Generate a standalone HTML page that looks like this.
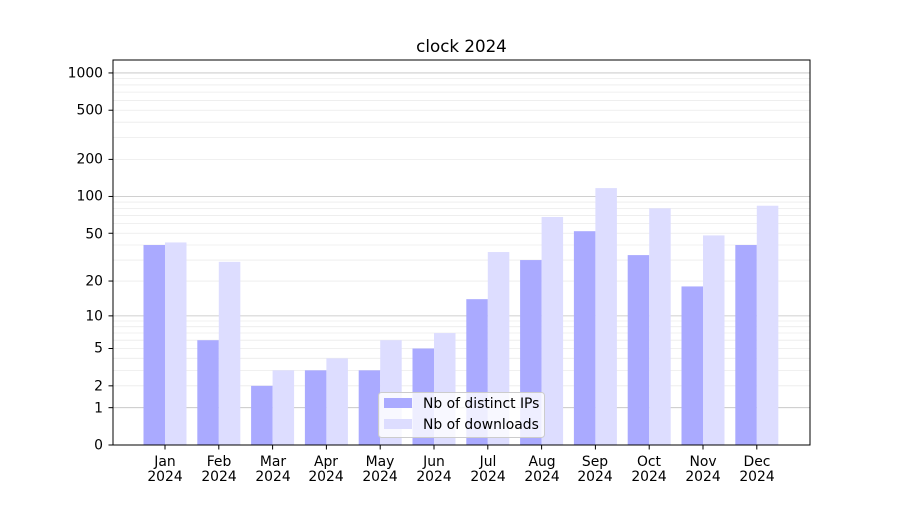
<!DOCTYPE html>
<html><head><meta charset="utf-8"><style>
body{margin:0;background:#fff}
svg text{font-family:"DejaVu Sans","Liberation Sans",sans-serif;font-size:13.9px;fill:#000}
</style></head><body>
<svg id="s" width="900" height="500" xmlns="http://www.w3.org/2000/svg">
<rect width="900" height="500" fill="#fff"/>
<g id="grid"></g>
<g id="bars"></g>
<rect x="113" y="60" width="697" height="385" fill="none" stroke="#000" stroke-width="1"/>
<g id="ticks"></g>
<text x="461.5" y="52" text-anchor="middle" style="font-size:16.7px">clock 2024</text>
<g text-anchor="end">
<text x="103" y="449.5">0</text>
<text x="103" y="412.5">1</text>
<text x="103" y="390.5">2</text>
<text x="103" y="352.5">5</text>
<text x="103" y="320.5">10</text>
<text x="103" y="285.5">20</text>
<text x="103" y="238.5">50</text>
<text x="103" y="200.5">100</text>
<text x="103" y="163.5">200</text>
<text x="103" y="114.5">500</text>
<text x="103" y="77.5">1000</text>
</g>
<g text-anchor="middle">
<text x="165" y="466">Jan</text><text x="165" y="481">2024</text>
<text x="219" y="466">Feb</text><text x="219" y="481">2024</text>
<text x="273" y="466">Mar</text><text x="273" y="481">2024</text>
<text x="326" y="466">Apr</text><text x="326" y="481">2024</text>
<text x="380" y="466">May</text><text x="380" y="481">2024</text>
<text x="434" y="466">Jun</text><text x="434" y="481">2024</text>
<text x="488" y="466">Jul</text><text x="488" y="481">2024</text>
<text x="542" y="466">Aug</text><text x="542" y="481">2024</text>
<text x="595" y="466">Sep</text><text x="595" y="481">2024</text>
<text x="649" y="466">Oct</text><text x="649" y="481">2024</text>
<text x="703" y="466">Nov</text><text x="703" y="481">2024</text>
<text x="757" y="466">Dec</text><text x="757" y="481">2024</text>
</g>
<rect x="378.5" y="392.5" width="166" height="45" rx="3" fill="#fff" fill-opacity="0.8" stroke="#ccc"/>
<rect x="384" y="398" width="28" height="10" fill="#aaaaff"/>
<rect x="384" y="419" width="28" height="10" fill="#ddddff"/>
<text x="423" y="408">Nb of distinct IPs</text>
<text x="423" y="429">Nb of downloads</text>
</svg>
<script>
var NS="http://www.w3.org/2000/svg";
function Y(v){return 445-124*Math.log10(1+v);}
function el(p,t,a){var e=document.createElementNS(NS,t);for(var k in a)e.setAttribute(k,a[k]);p.appendChild(e);return e;}
var g=document.getElementById("grid"),b=document.getElementById("bars"),tk=document.getElementById("ticks");
var minors=[];
for(var d=1;d<=1000;d*=10)for(var m=2;m<=9;m++){var v=m*d;if(v<2000)minors.push(v);}
minors.forEach(function(v){var y=Y(v);if(y>60)el(g,"line",{x1:113,x2:810,y1:y,y2:y,stroke:"#ebebeb","stroke-width":0.8});});
[1,10,100,1000].forEach(function(v){var y=Y(v);el(g,"line",{x1:113,x2:810,y1:y,y2:y,stroke:"#c0c0c0","stroke-width":0.8});});
[0,1,2,5,10,20,50,100,200,500,1000].forEach(function(v){var y=Y(v);el(tk,"line",{x1:108.5,x2:113,y1:y,y2:y,stroke:"#000"});});
var ips=[40,6,2,3,3,5,14,30,52,33,18,40];
var dl=[42,29,3,4,6,7,35,68,117,80,48,84];
var w=21.5;
for(var i=0;i<12;i++){
 var c=165+i*53.8;
 el(b,"rect",{x:c-w,y:Y(ips[i]),width:w,height:445-Y(ips[i]),fill:"#aaaaff"});
 el(b,"rect",{x:c,y:Y(dl[i]),width:w,height:445-Y(dl[i]),fill:"#ddddff"});
 el(tk,"line",{x1:c,x2:c,y1:445,y2:449.5,stroke:"#000"});
}
</script>
</body></html>
